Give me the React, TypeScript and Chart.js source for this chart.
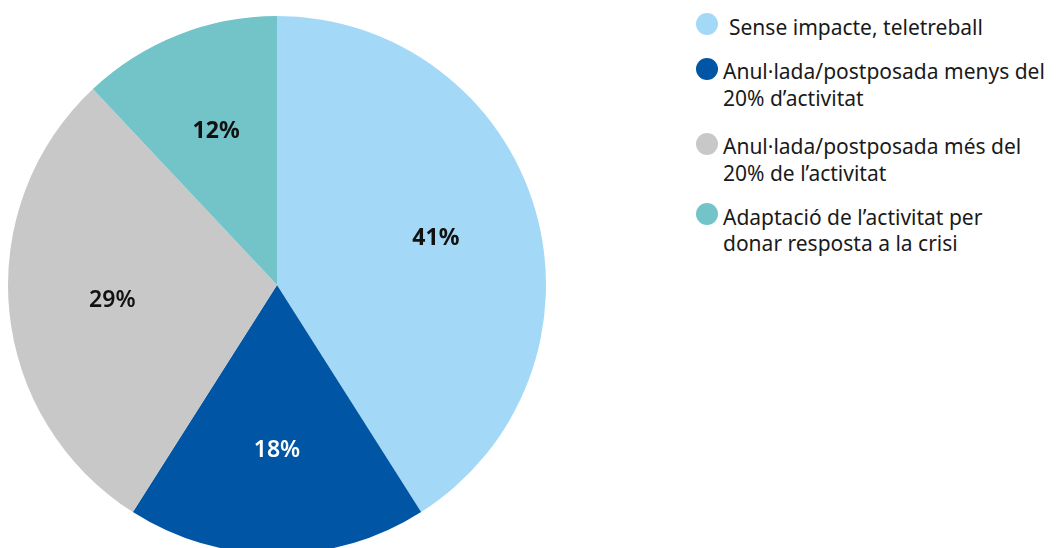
import React, { useEffect, useRef } from "react";
import { Chart, registerables } from "chart.js";

Chart.register(...registerables);

const categories = [
  "Sense impacte, teletreball",
  "Anul·lada/postposada menys del\n20% d’activitat",
  "Anul·lada/postposada més del\n20% de l’activitat",
  "Adaptació de l’activitat per\ndonar resposta a la crisi",
];
const values = [41, 18, 29, 12];
const colors = ["#A3D9F6", "#0056A4", "#C8C8C8", "#72C4C9"];
const labelColors = ["#111111", "#FFFFFF", "#111111", "#111111"];
const labelWeights = ["bold", "600", "600", "bold"];

const FONT = "'Noto Sans', 'Open Sans', sans-serif";

const sliceLabels = {
  id: "sliceLabels",
  afterDatasetsDraw(chart: any) {
    const ctx = chart.ctx;
    const meta = chart.getDatasetMeta(0);
    ctx.save();
    meta.data.forEach((arc: any, i: number) => {
      const p = arc.getProps(["x", "y", "startAngle", "endAngle", "outerRadius"], true);
      const mid = (p.startAngle + p.endAngle) / 2;
      const r = p.outerRadius * 0.615;
      const x = p.x + Math.cos(mid) * r;
      const y = p.y + Math.sin(mid) * r;
      ctx.font = `${labelWeights[i]} 23px ${FONT}`;
      ctx.fillStyle = labelColors[i];
      ctx.textAlign = "center";
      ctx.textBaseline = "middle";
      ctx.fillText(values[i] + "%", x, y);
    });
    ctx.restore();
  },
};

export default function App() {
  const ref = useRef<HTMLCanvasElement>(null);
  useEffect(() => {
    if (!ref.current) return;
    const chart = new Chart(ref.current, {
      type: "pie",
      data: {
        labels: categories,
        datasets: [
          {
            data: values,
            backgroundColor: colors,
            borderWidth: 0,
          },
        ],
      },
      options: {
        animation: false,
        responsive: false,
        maintainAspectRatio: false,
        layout: { padding: { left: 8, top: 16, right: 14, bottom: 16 } },
        plugins: {
          legend: { display: false },
          tooltip: { enabled: false },
        },
      },
      plugins: [sliceLabels],
    });
    return () => chart.destroy();
  }, []);

  const tops = [13.6, 58, 133, 203.6];

  return (
    <div
      style={{
        position: "fixed",
        left: 0,
        top: 0,
        width: 1056,
        height: 548,
        overflow: "hidden",
        background: "#fff",
        fontFamily: FONT,
      }}
    >
      <canvas ref={ref} width={560} height={570} style={{ position: "absolute", left: 0, top: 0 }} />
      {categories.map((c, i) => (
        <div key={i} style={{ position: "absolute", left: 696, top: tops[i], width: 360 }}>
          <div
            style={{
              position: "absolute",
              left: 0,
              top: -0.5,
              width: 22,
              height: 22,
              borderRadius: "50%",
              background: colors[i],
            }}
          />
          <div
            style={{
              marginLeft: i === 0 ? 33 : 27,
              fontSize: 21,
              lineHeight: "26.5px",
              color: "#1a1a1a",
              whiteSpace: "pre-line",
            }}
          >
            {c}
          </div>
        </div>
      ))}
    </div>
  );
}
